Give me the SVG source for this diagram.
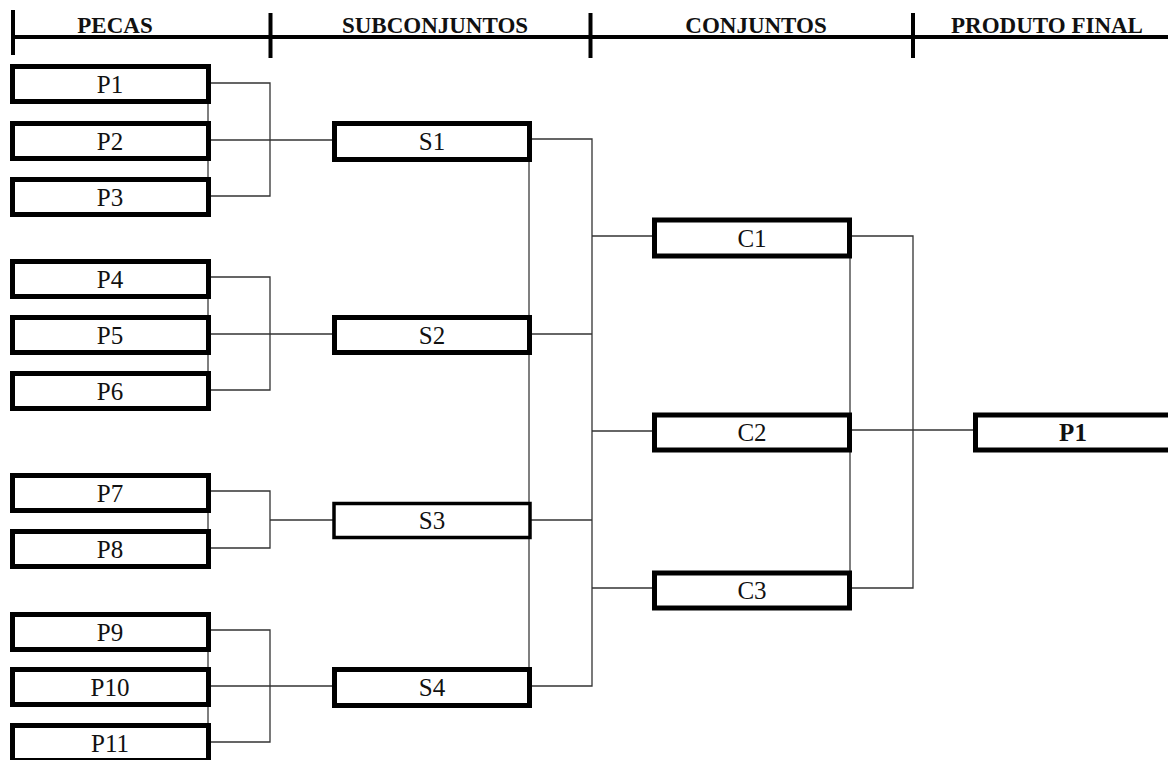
<svg xmlns="http://www.w3.org/2000/svg" width="1168" height="760" viewBox="0 0 1168 760">
<style>
.hdr{font-family:"Liberation Serif","Times New Roman",serif;font-weight:bold;font-size:23px;fill:#111;text-anchor:middle}
.lbl{font-family:"Liberation Serif","Times New Roman",serif;font-size:25px;fill:#111;text-anchor:middle}
.fin{font-family:"Liberation Serif","Times New Roman",serif;font-weight:bold;font-size:25px;fill:#111;text-anchor:middle}
.box{fill:#fff;stroke:#000;stroke-width:5}
.thin{fill:#fff;stroke:#000;stroke-width:3.5}
.c{fill:none;stroke:#333;stroke-width:1.3}
.g{fill:none;stroke:#555;stroke-width:1.5}
.bar{stroke:#000;stroke-width:4}
</style>
<rect width="1168" height="760" fill="#fff"/>
<g id="header">
<line class="bar" x1="12" y1="37" x2="1168" y2="37"/>
<line class="bar" x1="13" y1="10" x2="13" y2="55"/>
<line class="bar" x1="270.5" y1="13" x2="270.5" y2="58"/>
<line class="bar" x1="590.5" y1="13" x2="590.5" y2="58"/>
<line class="bar" x1="913" y1="13" x2="913" y2="58"/>
<text class="hdr" x="115" y="33">PECAS</text>
<text class="hdr" x="435" y="33">SUBCONJUNTOS</text>
<text class="hdr" x="756" y="33">CONJUNTOS</text>
<text class="hdr" x="1047" y="33">PRODUTO FINAL</text>
</g>
<g id="connectors">
<line class="g" x1="208" y1="84" x2="208" y2="197"/>
<line class="g" x1="208" y1="279" x2="208" y2="391"/>
<line class="g" x1="208" y1="493" x2="208" y2="549"/>
<line class="g" x1="208" y1="632" x2="208" y2="743"/>
<line class="g" x1="529" y1="141" x2="529" y2="687"/>
<line class="g" x1="850" y1="238" x2="850" y2="591"/>
<polyline class="c" points="211,83 270,83 270,196 211,196"/>
<line class="c" x1="211" y1="140" x2="332" y2="140"/>
<polyline class="c" points="211,277 270,277 270,390 211,390"/>
<line class="c" x1="211" y1="334" x2="332" y2="334"/>
<polyline class="c" points="211,491 270,491 270,548 211,548"/>
<line class="c" x1="270" y1="520" x2="333" y2="520"/>
<polyline class="c" points="211,630 270,630 270,742 211,742"/>
<line class="c" x1="211" y1="686" x2="332" y2="686"/>
<polyline class="c" points="532,139 592,139 592,686 532,686"/>
<line class="c" x1="532" y1="334" x2="592" y2="334"/>
<line class="c" x1="531" y1="520" x2="592" y2="520"/>
<line class="c" x1="592" y1="236" x2="652" y2="236"/>
<line class="c" x1="592" y1="431" x2="652" y2="431"/>
<line class="c" x1="592" y1="588" x2="652" y2="588"/>
<polyline class="c" points="852,236 913,236 913,588 852,588"/>
<line class="c" x1="852" y1="430" x2="973" y2="430"/>
</g>
<g id="P1"><rect class="box" x="12.5" y="66.5" width="196" height="35"/><text class="lbl" x="110" y="93">P1</text></g>
<g id="P2"><rect class="box" x="12.5" y="123.5" width="196" height="35"/><text class="lbl" x="110" y="150">P2</text></g>
<g id="P3"><rect class="box" x="12.5" y="179.5" width="196" height="35"/><text class="lbl" x="110" y="206">P3</text></g>
<g id="P4"><rect class="box" x="12.5" y="261.5" width="196" height="35"/><text class="lbl" x="110" y="288">P4</text></g>
<g id="P5"><rect class="box" x="12.5" y="317.5" width="196" height="35"/><text class="lbl" x="110" y="344">P5</text></g>
<g id="P6"><rect class="box" x="12.5" y="373.5" width="196" height="35"/><text class="lbl" x="110" y="400">P6</text></g>
<g id="P7"><rect class="box" x="12.5" y="475.5" width="196" height="35"/><text class="lbl" x="110" y="502">P7</text></g>
<g id="P8"><rect class="box" x="12.5" y="531.5" width="196" height="35"/><text class="lbl" x="110" y="558">P8</text></g>
<g id="P9"><rect class="box" x="12.5" y="614.5" width="196" height="35"/><text class="lbl" x="110" y="641">P9</text></g>
<g id="P10"><rect class="box" x="12.5" y="669.5" width="196" height="35"/><text class="lbl" x="110" y="696">P10</text></g>
<g id="P11"><rect class="box" x="12.5" y="725.5" width="196" height="35"/><text class="lbl" x="110" y="752">P11</text></g>
<g id="S1"><rect class="box" x="334.5" y="123.5" width="195" height="36"/><text class="lbl" x="432" y="150">S1</text></g>
<g id="S2"><rect class="box" x="334.5" y="317.5" width="195" height="35"/><text class="lbl" x="432" y="344">S2</text></g>
<g id="S3"><rect class="thin" x="334" y="503.5" width="196" height="34"/><text class="lbl" x="432" y="529">S3</text></g>
<g id="S4"><rect class="box" x="334.5" y="669.5" width="195" height="36"/><text class="lbl" x="432" y="696">S4</text></g>
<g id="C1"><rect class="box" x="654.5" y="220" width="195" height="36"/><text class="lbl" x="752" y="247">C1</text></g>
<g id="C2"><rect class="box" x="654.5" y="415" width="195" height="35"/><text class="lbl" x="752" y="441">C2</text></g>
<g id="C3"><rect class="box" x="654.5" y="573" width="195" height="35"/><text class="lbl" x="752" y="599">C3</text></g>
<g id="PF"><rect class="box" x="975.5" y="415" width="195" height="35"/><text class="fin" x="1073" y="441">P1</text></g>
</svg>
